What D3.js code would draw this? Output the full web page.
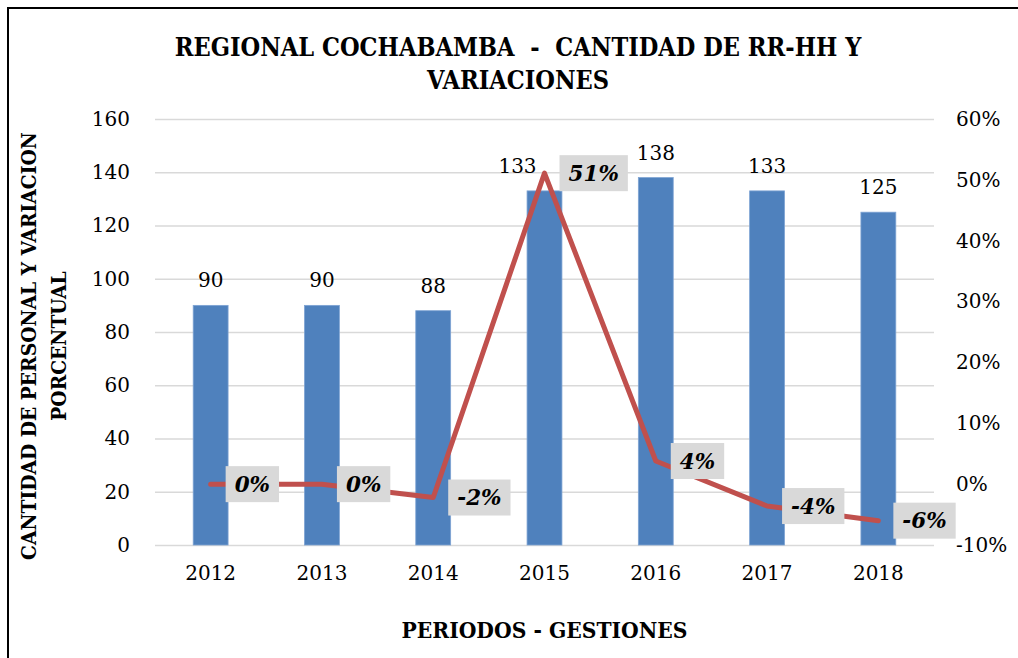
<!DOCTYPE html>
<html>
<head>
<meta charset="utf-8">
<script src="https://cdn.jsdelivr.net/npm/d3@7"></script>
<style>
  body { margin: 0; background: #fff; }
  text { font-family: "DejaVu Serif", "Liberation Serif", serif; fill: #000; }
</style>
</head>
<body>
<div id="chart"></div>
<script>
// data
const years = ['2012', '2013', '2014', '2015', '2016', '2017', '2018'];
const personal = [90, 90, 88, 133, 138, 133, 125];
const variacion = [0.0, 0.0, -0.022, 0.511, 0.038, -0.036, -0.060];
const varLabels = ['0%', '0%', '-2%', '51%', '4%', '-4%', '-6%'];
const leftTicks = [0, 20, 40, 60, 80, 100, 120, 140, 160];
const rightTicks = [-0.1, 0, 0.1, 0.2, 0.3, 0.4, 0.5, 0.6];

const W = 1018, H = 658;
const plot = {left: 155, right: 934, top: 119, bottom: 545};

const svg = d3.select('#chart').append('svg')
    .attr('width', W)
    .attr('height', H);

// frame (only left and top edges visible in the picture)
svg.append('rect')
    .attr('x', 8).attr('y', 8)
    .attr('width', W + 20).attr('height', H + 20)
    .attr('fill', 'none')
    .attr('stroke', '#000')
    .attr('stroke-width', 2);

const x = d3.scaleBand()
    .domain(years)
    .range([plot.left, plot.right])
    .padding(0);

const y = d3.scaleLinear()
    .domain([0, 160])
    .range([plot.bottom, plot.top]);

const y2 = d3.scaleLinear()
    .domain([-0.1, 0.6])
    .range([plot.bottom, plot.top]);

const barW = x.bandwidth() / 3.19;
const cx = d => x(d) + x.bandwidth() / 2;
const numFont = 20;

// gridlines + left axis
const yAxis = d3.axisLeft(y)
    .tickValues(leftTicks)
    .tickSize(-(plot.right - plot.left))
    .tickPadding(25)
    .tickFormat(d3.format('d'));

const gy = svg.append('g')
    .attr('class', 'y-axis')
    .attr('transform', `translate(${plot.left},0)`)
    .call(yAxis);
gy.select('.domain').remove();
gy.selectAll('line').attr('stroke', '#d9d9d9').attr('stroke-width', 1.5);
gy.selectAll('text').attr('font-size', numFont).attr('font-family', '"DejaVu Serif", serif');

// right axis (labels only), plain hyphen for the minus sign
const y2Axis = d3.axisRight(y2)
    .tickValues(rightTicks)
    .tickSize(0)
    .tickPadding(22)
    .tickFormat(d => Math.round(d * 100) + '%');

const gy2 = svg.append('g')
    .attr('class', 'y2-axis')
    .attr('transform', `translate(${plot.right},0)`)
    .call(y2Axis);
gy2.select('.domain').remove();
gy2.selectAll('text').attr('font-size', numFont).attr('font-family', '"DejaVu Serif", serif');

// x axis labels
const xAxis = d3.axisBottom(x).tickSize(0).tickPadding(21);
const gx = svg.append('g')
    .attr('class', 'x-axis')
    .attr('transform', `translate(0,${plot.bottom})`)
    .call(xAxis);
gx.select('.domain').remove();
gx.selectAll('text').attr('font-size', numFont).attr('font-family', '"DejaVu Serif", serif');

// bars
svg.selectAll('.bars')
    .data(personal)
    .enter()
    .append('rect')
    .attr('class', 'bars')
    .attr('x', (d, i) => cx(years[i]) - barW / 2)
    .attr('y', d => y(d))
    .attr('width', barW)
    .attr('height', d => y(0) - y(d))
    .attr('fill', '#4f81bd')
    .attr('stroke', '#7ea3d3')
    .attr('stroke-width', 0.8);

// bar value labels (2015 label was nudged left in the original)
const nudge = [0, 0, 0, -27, 0, 0, 0];
svg.selectAll('.bar-label')
    .data(personal)
    .enter()
    .append('text')
    .attr('class', 'bar-label')
    .attr('x', (d, i) => cx(years[i]) + nudge[i])
    .attr('y', d => y(d) - 25)
    .attr('dy', '0.35em')
    .attr('text-anchor', 'middle')
    .attr('font-size', numFont)
    .text(d => d);

// variation line
const line = d3.line()
    .x((d, i) => cx(years[i]))
    .y(d => y2(d));

svg.append('path')
    .datum(variacion)
    .attr('d', line)
    .attr('fill', 'none')
    .attr('stroke', '#c0504d')
    .attr('stroke-width', 5)
    .attr('stroke-linejoin', 'round')
    .attr('stroke-linecap', 'round');

// variation labels in grey boxes
const lab = svg.selectAll('.var-label')
    .data(variacion)
    .enter()
    .append('g')
    .attr('class', 'var-label')
    .attr('transform', (d, i) => `translate(${cx(years[i]) + 15},${y2(d)})`);

const boxes = lab.append('rect')
    .attr('fill', '#d9d9d9');

const labTxt = lab.append('text')
    .attr('font-size', 21.5)
    .attr('font-weight', 'bold')
    .attr('font-style', 'italic')
    .attr('dy', '0.36em')
    .text((d, i) => varLabels[i]);

labTxt.each(function(d, i) {
    const w = this.getComputedTextLength();
    d3.select(this).attr('x', 9);
    d3.select(boxes.nodes()[i])
        .attr('x', 0).attr('y', -18)
        .attr('width', w + 18).attr('height', 36);
});

// titles
function fitText(sel, target) {
    const w = sel.node().getComputedTextLength();
    const fs = +sel.attr('font-size');
    sel.attr('font-size', fs * target / w);
}

const t1 = svg.append('text')
    .attr('x', 518).attr('y', 47)
    .attr('dy', '0.35em')
    .attr('text-anchor', 'middle')
    .attr('font-weight', 'bold')
    .attr('font-size', 24)
    .style('font-family', '"DejaVu Serif Condensed", "DejaVu Serif", serif')
    .style('white-space', 'pre')
    .text('REGIONAL COCHABAMBA  -  CANTIDAD DE RR-HH Y');
fitText(t1, 687);
const tfs = t1.attr('font-size');

svg.append('text')
    .attr('x', 518).attr('y', 80)
    .attr('dy', '0.35em')
    .attr('text-anchor', 'middle')
    .attr('font-weight', 'bold')
    .attr('font-size', tfs)
    .style('font-family', '"DejaVu Serif Condensed", "DejaVu Serif", serif')
    .text('VARIACIONES');

const xt = svg.append('text')
    .attr('x', (plot.left + plot.right) / 2).attr('y', 630)
    .attr('dy', '0.35em')
    .attr('text-anchor', 'middle')
    .attr('font-weight', 'bold')
    .attr('font-size', 22)
    .style('font-family', '"DejaVu Serif Condensed", "DejaVu Serif", serif')
    .text('PERIODOS - GESTIONES');
fitText(xt, 286);

const yt = svg.append('g')
    .attr('transform', 'translate(29,346) rotate(-90)');
const yt1 = yt.append('text')
    .attr('x', 0).attr('y', 0)
    .attr('dy', '0.35em')
    .attr('text-anchor', 'middle')
    .attr('font-weight', 'bold')
    .attr('font-size', 22)
    .style('font-family', '"DejaVu Serif Condensed", "DejaVu Serif", serif')
    .text('CANTIDAD DE PERSONAL Y VARIACION');
fitText(yt1, 428);
yt.append('text')
    .attr('x', 0).attr('y', 29.5)
    .attr('dy', '0.35em')
    .attr('text-anchor', 'middle')
    .attr('font-weight', 'bold')
    .attr('font-size', yt1.attr('font-size'))
    .style('font-family', '"DejaVu Serif Condensed", "DejaVu Serif", serif')
    .text('PORCENTUAL');
</script>
</body>
</html>
